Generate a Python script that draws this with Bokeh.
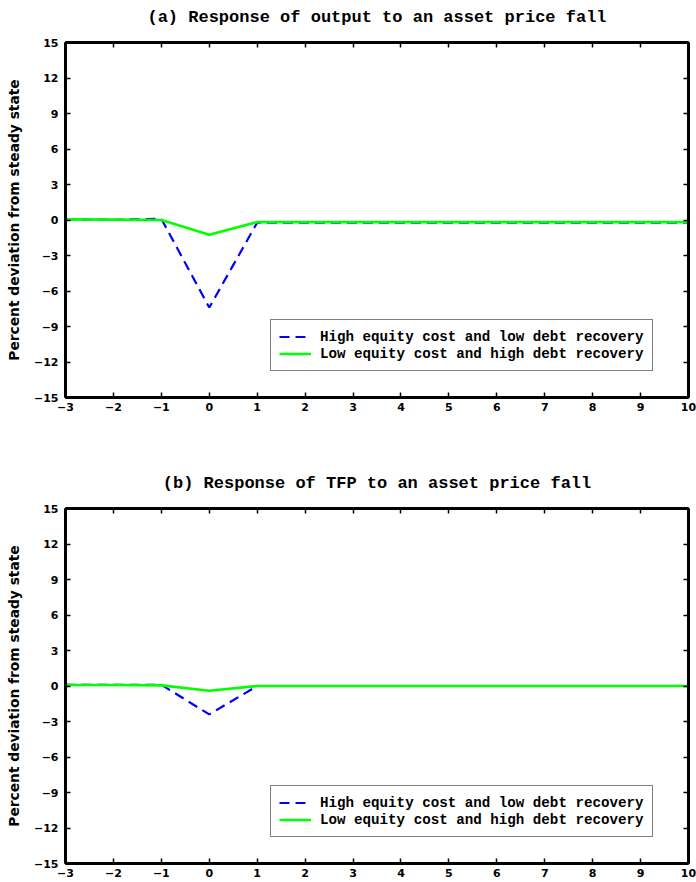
from bokeh.plotting import figure
from bokeh.models import (LinearAxis, FixedTicker, Range1d, Legend, LegendItem,
                          CustomLabelingPolicy)
from bokeh.layouts import column
from bokeh.embed import file_html
from bokeh.resources import INLINE

periods = [-3, -2, -1, 0, 1, 2, 3, 4, 5, 6, 7, 8, 9, 10]

output_high = [0.05, 0.02, 0.1, -7.4, -0.22, -0.22, -0.22, -0.22, -0.22, -0.22, -0.22, -0.22, -0.22, -0.22]
output_low = [0.05, 0.03, 0.0, -1.25, -0.18, -0.18, -0.18, -0.18, -0.18, -0.18, -0.18, -0.18, -0.18, -0.18]

tfp_high = [0.1, 0.1, 0.1, -2.4, 0.0, 0.0, 0.0, 0.0, 0.0, 0.0, 0.0, 0.0, 0.0, 0.0]
tfp_low = [0.08, 0.08, 0.05, -0.4, 0.0, 0.0, 0.0, 0.0, 0.0, 0.0, 0.0, 0.0, 0.0, 0.0]

titles = ["(a) Response of output to an asset price fall",
          "(b) Response of TFP to an asset price fall"]
series_labels = ["High equity cost and low debt recovery",
                 "Low equity cost and high debt recovery"]
y_label = "Percent deviation from steady state"
x_ticks = list(range(-3, 11))
y_ticks = list(range(-15, 16, 3))

TICK_FONT = "DejaVu Sans"
SERIF = "Liberation Mono"

NO_LABELS = CustomLabelingPolicy(code="""
const idx = Array.from(indices);
for (const i of idx) { indices.unset(i); }
return indices;
""")


def style_axis(ax, show_labels):
    ax.axis_line_width = 3
    ax.axis_line_color = "black"
    ax.major_tick_in = 5
    ax.major_tick_out = 0
    ax.major_tick_line_width = 1.5
    ax.major_tick_line_color = "black"
    ax.minor_tick_line_color = None
    if show_labels:
        ax.major_label_text_font = TICK_FONT
        ax.major_label_text_font_size = "11px"
        ax.major_label_text_font_style = "bold"
        ax.major_label_text_color = "black"
        ax.major_label_standoff = 7
    else:
        ax.major_label_policy = NO_LABELS
        ax.major_label_standoff = 0


def make_panel(title, high, low, bottom_border):
    p = figure(frame_width=623, frame_height=355,
               x_range=Range1d(-3, 10), y_range=Range1d(-15, 15),
               output_backend="svg", toolbar_location=None,
               min_border_left=65, min_border_right=0,
               min_border_top=42, min_border_bottom=bottom_border,
               background_fill_color="white", border_fill_color="white")
    p.title.text = title
    p.title.text_font = SERIF
    p.title.text_font_size = "17px"
    p.title.text_font_style = "bold"
    p.title.align = "center"
    p.title.text_color = "black"
    p.xgrid.grid_line_color = None
    p.ygrid.grid_line_color = None
    p.outline_line_color = "black"
    p.outline_line_width = 2

    p.xaxis.ticker = FixedTicker(ticks=x_ticks)
    p.yaxis.ticker = FixedTicker(ticks=y_ticks)
    style_axis(p.xaxis[0], True)
    style_axis(p.yaxis[0], True)
    p.xaxis.major_label_standoff = 5
    p.yaxis.axis_label = y_label
    p.yaxis.axis_label_text_font = TICK_FONT
    p.yaxis.axis_label_text_font_size = "13.8px"
    p.yaxis.axis_label_text_font_style = "bold"
    p.yaxis.axis_label_text_color = "black"
    p.yaxis.axis_label_standoff = 9

    top = LinearAxis(ticker=FixedTicker(ticks=x_ticks))
    style_axis(top, False)
    p.add_layout(top, "above")
    right = LinearAxis(ticker=FixedTicker(ticks=y_ticks))
    style_axis(right, False)
    p.add_layout(right, "right")

    r1 = p.line(periods, high, line_color="#0000ff", line_width=2.2,
                line_dash="10 6")
    r2 = p.line(periods, low, line_color="#00ff00", line_width=2.6)

    legend = Legend(items=[LegendItem(label=series_labels[0], renderers=[r1]),
                           LegendItem(label=series_labels[1], renderers=[r2])],
                    location=(205, 26))
    legend.label_text_font = SERIF
    legend.label_text_font_size = "14.2px"
    legend.label_text_font_style = "bold"
    legend.label_text_color = "black"
    legend.label_height = 17
    legend.glyph_height = 17
    legend.glyph_width = 32
    legend.label_standoff = 9
    legend.padding = 8
    legend.spacing = 0
    legend.margin = 0
    legend.border_line_color = "black"
    legend.border_line_width = 1.5
    legend.background_fill_alpha = 1
    p.add_layout(legend, "center")
    return p


p1 = make_panel(titles[0], output_high, output_low, 69)
p2 = make_panel(titles[1], tfp_high, tfp_low, 19)

layout = column(p1, p2, spacing=0)

open("out.html", "w").write(file_html(layout, INLINE))
